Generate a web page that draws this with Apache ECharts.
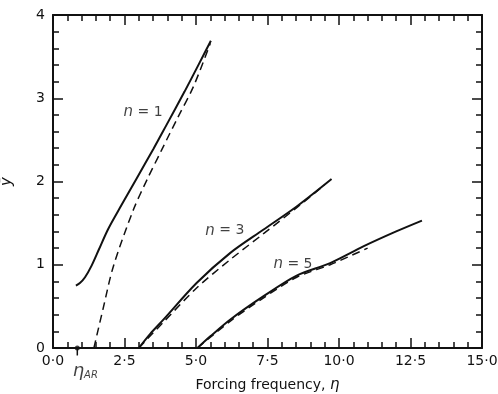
<!DOCTYPE html>
<html>
<head>
<meta charset="utf-8">
<script src="https://cdn.jsdelivr.net/npm/echarts@6/dist/echarts.min.js"></script>
<style>
  html, body { margin: 0; padding: 0; background: #fff; }
  #chart { width: 498px; height: 394px; }
</style>
</head>
<body>
<div id="chart"></div>
<script>
// curves: [eta, ybar]
const n1Solid = [[0.80, 0.75], [0.94, 0.78], [1.12, 0.85], [1.35, 0.99], [1.60, 1.18], [1.93, 1.43], [2.40, 1.72], [2.93, 2.04], [3.51, 2.39], [3.97, 2.68], [4.60, 3.08], [5.10, 3.41], [5.52, 3.69]];
const n1Dashed = [[1.43, 0], [1.75, 0.47], [2.11, 0.98], [2.81, 1.66], [3.30, 2.03], [3.80, 2.38], [4.35, 2.76], [4.91, 3.14], [5.50, 3.66]];
const n3Solid = [[3.0, 0], [3.4, 0.17], [3.86, 0.34], [5.02, 0.78], [6.19, 1.14], [7.35, 1.42], [8.52, 1.70], [9.74, 2.03]];
const n3Dashed = [[3.0, 0], [3.86, 0.31], [5.02, 0.72], [6.19, 1.06], [7.35, 1.37], [8.50, 1.68], [9.50, 1.96]];
const n5Solid = [[5.05, 0], [5.5, 0.14], [6.19, 0.34], [7.35, 0.62], [8.52, 0.87], [9.69, 1.02], [10.85, 1.22], [12.0, 1.40], [12.9, 1.53]];
const n5Dashed = [[5.05, 0], [6.19, 0.32], [7.35, 0.60], [8.52, 0.85], [9.69, 1.00], [11.0, 1.20]];
const curveLabels = [
  { name: '1', value: [3.15, 2.83] },
  { name: '3', value: [6.01, 1.41] },
  { name: '5', value: [8.39, 1.01] }
];
const etaAR = 0.85;

const ink = '#111';
const font = 'DejaVu Sans';

const chart = echarts.init(document.getElementById('chart'));

const tickFmt = v => v.toFixed(1).replace('.', '\u00b7');

function solid(data) {
  return { type: 'line', data, smooth: 0.3, symbol: 'none', silent: true,
    lineStyle: { color: ink, width: 2 } };
}
function dashed(data) {
  return { type: 'line', data, smooth: 0.3, symbol: 'none', silent: true,
    lineStyle: { color: ink, width: 1.5, type: [8, 5] } };
}

const xBase = {
  type: 'value', min: 0, max: 15, interval: 2.5,
  axisLine: { onZero: false, lineStyle: { color: ink, width: 2 } },
  axisTick: { inside: true, length: 10, lineStyle: { color: ink, width: 1.5 } },
  minorTick: { show: true, splitNumber: 5, length: 6, lineStyle: { color: ink, width: 1.5 } },
  splitLine: { show: false }
};
const yBase = {
  type: 'value', min: 0, max: 4, interval: 1,
  axisLine: { onZero: false, lineStyle: { color: ink, width: 2 } },
  axisTick: { inside: true, length: 10, lineStyle: { color: ink, width: 1.5 } },
  minorTick: { show: true, splitNumber: 5, length: 6, lineStyle: { color: ink, width: 1.5 } },
  splitLine: { show: false }
};

chart.setOption({
  animation: false,
  backgroundColor: '#fff',
  textStyle: { fontFamily: font, color: ink },
  grid: { left: 53, right: 16, top: 15, bottom: 46, outerBoundsMode: 'none' },
  xAxis: [
    Object.assign({}, xBase, {
      position: 'bottom',
      axisLabel: { color: ink, fontSize: 14, fontFamily: font, margin: 6, formatter: tickFmt },
      name: '{t|Forcing frequency, }{e|\u03b7}',
      nameLocation: 'middle', nameGap: 30,
      nameTextStyle: { rich: {
        t: { fontSize: 14, fontFamily: font, color: ink },
        e: { fontSize: 15, fontFamily: font, color: ink, fontStyle: 'italic' }
      } }
    }),
    Object.assign({}, xBase, { position: 'top', axisLabel: { show: false } })
  ],
  yAxis: [
    Object.assign({}, yBase, {
      position: 'left',
      axisLabel: { color: ink, fontSize: 14, fontFamily: font, margin: 8 },
      name: '\u0233', nameLocation: 'middle', nameGap: 38, nameRotate: 90,
      nameTextStyle: { fontSize: 15, fontFamily: font, color: ink, fontStyle: 'italic' }
    }),
    Object.assign({}, yBase, { position: 'right', axisLabel: { show: false } })
  ],
  series: [
    solid(n1Solid), dashed(n1Dashed),
    solid(n3Solid), dashed(n3Dashed),
    solid(n5Solid), dashed(n5Dashed),
    {
      type: 'scatter', data: curveLabels, symbolSize: 0, silent: true,
      label: {
        show: true, position: 'inside',
        formatter: p => '{i|n} = ' + p.name,
        fontSize: 14, fontFamily: font, color: ink,
        rich: { i: { fontStyle: 'italic', fontSize: 15, fontFamily: font, color: ink } }
      }
    },
    {
      type: 'line', data: [[etaAR, 0], [etaAR, -0.09]], symbol: 'none', clip: false,
      silent: true, lineStyle: { color: ink, width: 1.5 }
    },
    {
      type: 'scatter', data: [[etaAR, 0]], symbol: 'circle', symbolSize: 5, clip: false,
      silent: true, itemStyle: { color: ink },
      label: {
        show: true, position: 'bottom', distance: 12, offset: [8, 0],
        formatter: '{e|\u03b7}{s|AR}',
        rich: {
          e: { fontSize: 18, fontFamily: font, color: ink, fontStyle: 'italic', verticalAlign: 'bottom' },
          s: { fontSize: 10, fontFamily: font, color: ink, fontStyle: 'italic', verticalAlign: 'bottom', padding: [6, 0, 0, 0] }
        }
      }
    }
  ]
});
</script>
</body>
</html>
